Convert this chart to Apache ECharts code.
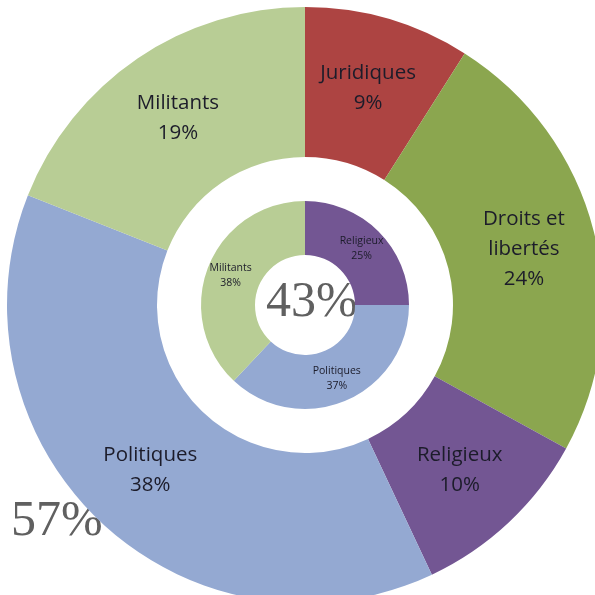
<!DOCTYPE html>
<html>
<head>
<meta charset="utf-8">
<script src="https://cdn.jsdelivr.net/npm/echarts@6/dist/echarts.min.js"></script>
<style>
  html, body { margin: 0; padding: 0; background: #fff; }
  #chart { width: 595px; height: 595px; }
</style>
</head>
<body>
<div id="chart"></div>
<script>
// anneau extérieur
var outerNames = ['Juridiques', 'Droits et\nlibertés', 'Religieux', 'Politiques', 'Militants'];
var outerValues = [9, 24, 10, 38, 19];
var outerColors = ['#ad4442', '#8ba64f', '#735693', '#94a9d2', '#b8cd95'];
// anneau intérieur
var innerNames = ['Religieux', 'Politiques', 'Militants'];
var innerValues = [25, 37, 38];
var innerColors = ['#735693', '#94a9d2', '#b8cd95'];
// textes gris
var centerText = '43%';
var cornerText = '57%';

var myChart = echarts.init(document.getElementById('chart'));

var outerData = [];
for (var i = 0; i < outerNames.length; i++) {
    outerData.push({ name: outerNames[i], value: outerValues[i], itemStyle: { color: outerColors[i] } });
}
var innerData = [];
for (var i = 0; i < innerNames.length; i++) {
    innerData.push({ name: innerNames[i], value: innerValues[i], itemStyle: { color: innerColors[i] } });
}

var option = {
    animation: false,
    series: [
        {
            type: 'pie',
            center: [305, 305],
            radius: [148, 298],
            startAngle: 90,
            clockwise: true,
            label: {
                position: 'inside',
                formatter: '{b}\n{c}%',
                fontFamily: 'Open Sans',
                fontSize: 20.5,
                lineHeight: 30,
                color: '#1c1c2a'
            },
            labelLine: { show: false },
            data: outerData
        },
        {
            type: 'pie',
            center: [305, 305],
            radius: [50, 104],
            startAngle: 90,
            clockwise: true,
            label: {
                position: 'inside',
                formatter: '{b}\n{c}%',
                fontFamily: 'Open Sans',
                fontSize: 10.5,
                lineHeight: 15,
                color: '#1c1c2a'
            },
            labelLine: { show: false },
            data: innerData
        }
    ],
    graphic: [
        {
            type: 'text',
            left: 266, top: 278,
            style: { text: centerText, font: '50px "Liberation Serif"', fill: '#606060' }
        },
        {
            type: 'text',
            left: 11, top: 497,
            style: { text: cornerText, font: '50px "Liberation Serif"', fill: '#606060' }
        }
    ]
};
myChart.setOption(option);
</script>
</body>
</html>
